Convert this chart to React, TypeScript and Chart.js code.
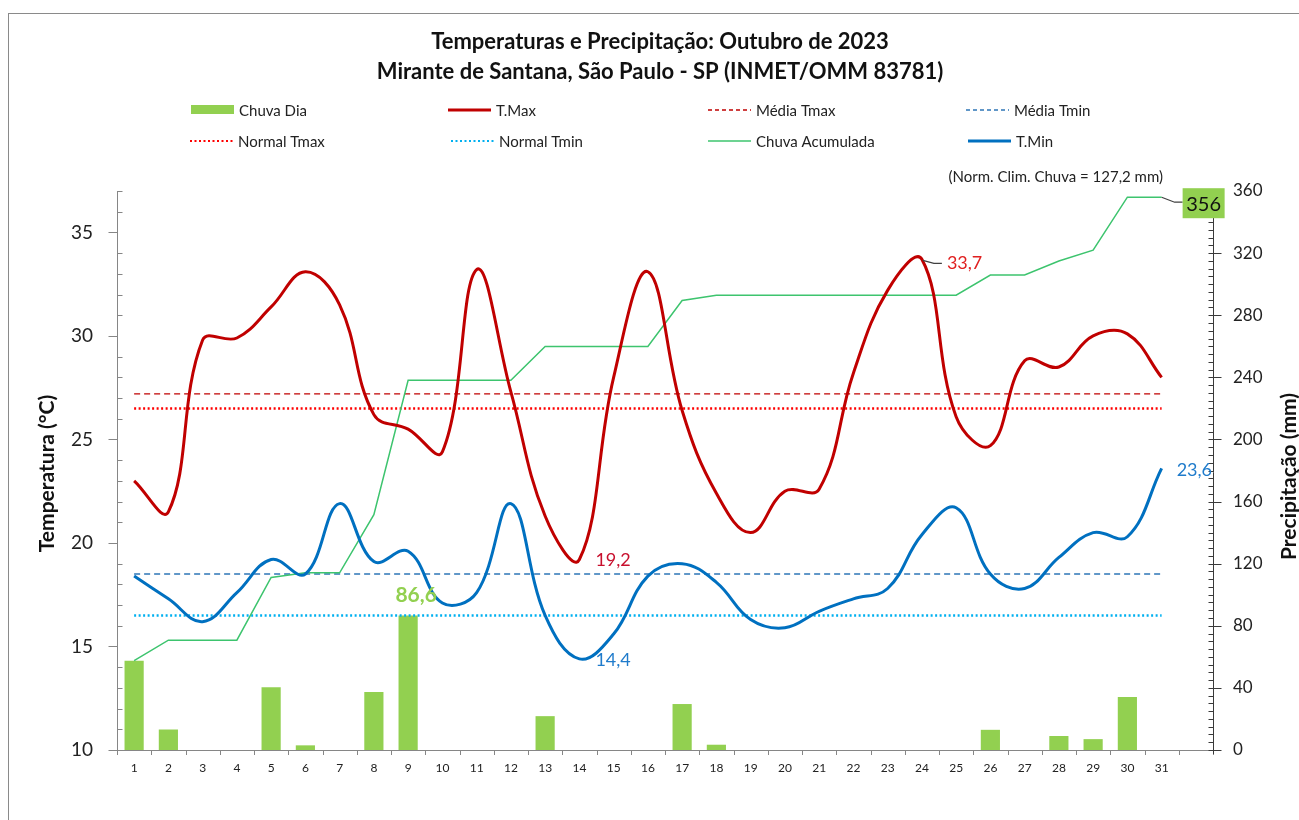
import React, { useEffect, useRef } from 'react';
import { Chart, registerables } from 'chart.js';

Chart.register(...registerables);

// ---------- data ----------
const days = ['1','2','3','4','5','6','7','8','9','10','11','12','13','14','15','16','17','18','19','20','21','22','23','24','25','26','27','28','29','30','31'];

const tMax = [23.0, 21.5, 29.8, 29.9, 31.4, 33.1, 31.5, 26.2, 25.5, 24.4, 33.2, 27.3, 21.3, 19.2, 28.0, 33.1,
  26.4, 22.4, 20.5, 22.5, 22.6, 28.2, 32.2, 33.7, 26.1, 24.7, 28.8, 28.5, 30.0, 30.1, 28.0];

const tMin = [18.4, 17.3, 16.2, 17.6, 19.2, 18.5, 21.9, 19.1, 19.6, 17.1, 17.6, 21.9, 16.5, 14.4, 15.6, 18.4,
  19.0, 18.1, 16.3, 15.9, 16.7, 17.3, 17.8, 20.4, 21.7, 18.5, 17.8, 19.3, 20.5, 20.3, 23.6];

const chuvaDia = [57.5, 13.2, 0, 0, 40.4, 3.0, 0, 37.4, 86.6, 0, 0, 0, 21.8, 0, 0, 0,
  29.6, 3.4, 0, 0, 0, 0, 0, 0, 0, 13.0, 0, 9.0, 7.0, 34.1, 0];

const chuvaAcumulada = [57.5, 70.7, 70.7, 70.7, 111.1, 114.1, 114.1, 151.5, 238.1, 238.1, 238.1, 238.1, 259.9, 259.9, 259.9, 259.9,
  289.5, 292.9, 292.9, 292.9, 292.9, 292.9, 292.9, 292.9, 292.9, 305.9, 305.9, 314.9, 321.9, 356.0, 356.0];

const mediaTmax = 27.2;
const normalTmax = 26.5;
const mediaTmin = 18.5;
const normalTmin = 16.5;
const normChuva = '127,2';

const tempTicks = [10, 15, 20, 25, 30, 35];
const rainTicks = [0, 40, 80, 120, 160, 200, 240, 280, 320, 360];

const titleLines = ['Temperaturas e Precipitação: Outubro de 2023', 'Mirante de Santana, São Paulo - SP (INMET/OMM 83781)'];

// ---------- style ----------
const FONT = 'Lato, "Open Sans", "DejaVu Sans", sans-serif';
const C_TMAX = '#C00000';
const C_TMIN = '#0070C0';
const C_ACUM = '#3DC46E';
const C_BAR = '#92D050';
const C_NTMAX = '#FF0000';
const C_NTMIN = '#00B0F0';
const C_MTMIN = '#2E75B6';

const fmt = (v: number) => v.toFixed(1).replace('.', ',');

export default function App() {
  const ref = useRef<HTMLCanvasElement>(null);

  useEffect(() => {
    const canvas = ref.current!;
    const n = days.length;
    const labels = [...days, ''];

    const line = (ctx: CanvasRenderingContext2D, x1: number, y1: number, x2: number, y2: number) => {
      ctx.beginPath();
      ctx.moveTo(x1, y1);
      ctx.lineTo(x2, y2);
      ctx.stroke();
    };

    const decor = {
      id: 'decor',
      beforeDatasetsDraw(chart: any) {
        const { ctx, chartArea: a, scales } = chart;
        const y = scales.y, y2 = scales.y2;
        ctx.save();
        ctx.lineWidth = 1;
        // left axis
        ctx.strokeStyle = '#868686';
        const L = Math.round(a.left) + 0.5;
        line(ctx, L, a.top, L, a.bottom + 5);
        for (let v = 10; v <= 37; v++) {
          const py = Math.round(y.getPixelForValue(v)) + 0.5;
          if (v % 5 === 0) line(ctx, L - 9, py, L, py);
          else line(ctx, L, py, L + 5, py);
        }
        // x axis
        const B = Math.round(a.bottom) + 0.5;
        line(ctx, a.left, B, a.right, B);
        const cw = (a.right - a.left) / labels.length;
        for (let k = 1; k <= labels.length; k++) {
          const px = Math.round(a.left + k * cw) + 0.5;
          line(ctx, px, a.bottom, px, a.bottom + 5);
        }
        // right axis
        ctx.strokeStyle = '#3a3a3a';
        const R = Math.round(a.right) + 0.5;
        line(ctx, R, a.top, R, a.bottom + 4);
        for (let v = 0; v <= 360; v += 5) {
          const py = Math.round(y2.getPixelForValue(v)) + 0.5;
          if (v % 40 === 0) line(ctx, R - 5, py, R + 8, py);
          else line(ctx, R - 5, py, R, py);
        }
        ctx.restore();
      },
      afterDatasetsDraw(chart: any) {
        const { ctx, chartArea: a, scales } = chart;
        const x = scales.x, y = scales.y, y2 = scales.y2;
        ctx.save();
        ctx.textBaseline = 'middle';
        ctx.textAlign = 'left';

        // max Tmax label with leader
        let iMax = 0; tMax.forEach((v, i) => { if (v > tMax[iMax]) iMax = i; });
        let px = x.getPixelForValue(iMax), py = y.getPixelForValue(tMax[iMax]);
        ctx.strokeStyle = '#404040'; ctx.lineWidth = 1.2;
        ctx.beginPath(); ctx.moveTo(px + 1, py + 1); ctx.lineTo(px + 12, py + 4); ctx.lineTo(px + 20, py + 4); ctx.stroke();
        ctx.font = `18px ${FONT}`;
        ctx.fillStyle = '#E02020';
        ctx.fillText(fmt(tMax[iMax]), px + 25, py + 4);

        // min Tmax
        let iMinX = 0; tMax.forEach((v, i) => { if (v < tMax[iMinX]) iMinX = i; });
        px = x.getPixelForValue(iMinX); py = y.getPixelForValue(tMax[iMinX]);
        ctx.fillStyle = '#C8102E';
        ctx.fillText(fmt(tMax[iMinX]), px + 16, py + 1);

        // min Tmin
        let iMinN = 0; tMin.forEach((v, i) => { if (v < tMin[iMinN]) iMinN = i; });
        px = x.getPixelForValue(iMinN); py = y.getPixelForValue(tMin[iMinN]);
        ctx.fillStyle = '#1F7BCB';
        ctx.fillText(fmt(tMin[iMinN]), px + 16, py + 1);

        // last Tmin
        const iLast = n - 1;
        px = x.getPixelForValue(iLast); py = y.getPixelForValue(tMin[iLast]);
        ctx.fillText(fmt(tMin[iLast]), px + 15, py + 2);

        // max rain
        let iR = 0; chuvaDia.forEach((v, i) => { if (v > chuvaDia[iR]) iR = i; });
        px = x.getPixelForValue(iR); py = y2.getPixelForValue(chuvaDia[iR]);
        ctx.textAlign = 'center';
        ctx.font = `bold 21px ${FONT}`;
        ctx.fillStyle = C_BAR;
        ctx.fillText(fmt(chuvaDia[iR]), px + 8, py - 20);

        // total rain box
        const tot = chuvaAcumulada[n - 1];
        px = x.getPixelForValue(n - 1); py = y2.getPixelForValue(tot);
        ctx.strokeStyle = '#404040'; ctx.lineWidth = 1.2;
        ctx.beginPath(); ctx.moveTo(px, py); ctx.lineTo(px + 13, py + 5); ctx.lineTo(px + 21, py + 5); ctx.stroke();
        ctx.fillStyle = C_BAR;
        ctx.fillRect(px + 21, py - 9, 42, 30);
        ctx.fillStyle = '#111';
        ctx.font = `20px ${FONT}`;
        ctx.fillText(String(Math.round(tot)), px + 42, py + 7);

        // normal rain note
        ctx.textAlign = 'right';
        ctx.font = `15px ${FONT}`;
        ctx.fillStyle = '#222';
        ctx.fillText(`(Norm. Clim. Chuva = ${normChuva} mm)`, a.right - 50, a.top - 14);
        ctx.restore();
      },
      afterDraw(chart: any) {
        const { ctx, chartArea: a } = chart;
        ctx.save();
        // title
        ctx.textAlign = 'center';
        ctx.textBaseline = 'middle';
        ctx.fillStyle = '#111';
        ctx.font = `bold 22px ${FONT}`;
        ctx.fillText(titleLines[0], 651, 28);
        ctx.fillText(titleLines[1], 651, 58);

        // axis titles
        ctx.font = `bold 21px ${FONT}`;
        ctx.save();
        ctx.translate(38, (a.top + a.bottom) / 2 + 3);
        ctx.rotate(-Math.PI / 2);
        ctx.fillText('Temperatura (°C)', 0, 0);
        ctx.restore();
        ctx.save();
        ctx.translate(1280, (a.top + a.bottom) / 2 + 6);
        ctx.rotate(-Math.PI / 2);
        ctx.fillText('Precipitação (mm)', 0, 0);
        ctx.restore();

        // legend
        const items = [
          { t: 'Chuva Dia', kind: 'bar', c: C_BAR, x: 182, y: 96 },
          { t: 'T.Max', kind: 'line', c: C_TMAX, w: 3, d: [], x: 439, y: 96 },
          { t: 'Média Tmax', kind: 'line', c: C_TMAX, w: 1.3, d: [4, 3], x: 699, y: 96 },
          { t: 'Média Tmin', kind: 'line', c: C_MTMIN, w: 1.3, d: [4, 3], x: 957, y: 96 },
          { t: 'Normal Tmax', kind: 'line', c: C_NTMAX, w: 2, d: [2, 2.5], x: 181, y: 127 },
          { t: 'Normal Tmin', kind: 'line', c: C_NTMIN, w: 2, d: [2, 2.5], x: 442, y: 127 },
          { t: 'Chuva Acumulada', kind: 'line', c: C_ACUM, w: 1.5, d: [], x: 699, y: 127 },
          { t: 'T.Min', kind: 'line', c: C_TMIN, w: 3, d: [], x: 959, y: 127 },
        ];
        ctx.textAlign = 'left';
        ctx.font = `15px ${FONT}`;
        for (const it of items as any[]) {
          if (it.kind === 'bar') {
            ctx.fillStyle = it.c;
            ctx.fillRect(it.x, it.y - 5, 43, 9);
          } else {
            ctx.strokeStyle = it.c;
            ctx.lineWidth = it.w;
            ctx.setLineDash(it.d);
            line(ctx, it.x, it.y, it.x + 43, it.y);
            ctx.setLineDash([]);
          }
          ctx.fillStyle = '#222';
          ctx.fillText(it.t, it.x + 48, it.y + 1);
        }
        ctx.restore();
      },
    };

    const flat = (v: number) => new Array(n).fill(v);

    const chart = new Chart(canvas, {
      type: 'bar',
      data: {
        labels,
        datasets: [
          { type: 'line', label: 'T.Min', data: tMin, yAxisID: 'y', borderColor: C_TMIN, borderWidth: 3, pointRadius: 0, tension: 0.4, order: 1 } as any,
          { type: 'line', label: 'T.Max', data: tMax, yAxisID: 'y', borderColor: C_TMAX, borderWidth: 3, pointRadius: 0, tension: 0.4, order: 2 } as any,
          { type: 'line', label: 'Chuva Acumulada', data: chuvaAcumulada, yAxisID: 'y2', borderColor: C_ACUM, borderWidth: 1.5, pointRadius: 0, tension: 0, order: 4 } as any,
          { type: 'line', label: 'Média Tmax', data: flat(mediaTmax), yAxisID: 'y', borderColor: C_TMAX, borderWidth: 1.3, borderDash: [6, 4], pointRadius: 0, order: 5 } as any,
          { type: 'line', label: 'Normal Tmax', data: flat(normalTmax), yAxisID: 'y', borderColor: C_NTMAX, borderWidth: 2.5, borderDash: [2, 2.5], pointRadius: 0, order: 5 } as any,
          { type: 'line', label: 'Média Tmin', data: flat(mediaTmin), yAxisID: 'y', borderColor: C_MTMIN, borderWidth: 1.3, borderDash: [6, 4], pointRadius: 0, order: 5 } as any,
          { type: 'line', label: 'Normal Tmin', data: flat(normalTmin), yAxisID: 'y', borderColor: C_NTMIN, borderWidth: 2.5, borderDash: [2, 2.5], pointRadius: 0, order: 5 } as any,
          { type: 'bar', label: 'Chuva Dia', data: chuvaDia, yAxisID: 'y2', backgroundColor: C_BAR, borderWidth: 0, categoryPercentage: 1, barPercentage: 0.56, order: 10 } as any,
        ],
      },
      options: {
        responsive: false,
        animation: false,
        events: [],
        layout: { padding: { top: 177, left: 0, right: 0, bottom: 0 } },
        plugins: { legend: { display: false }, title: { display: false }, tooltip: { enabled: false } },
        scales: {
          x: {
            type: 'category',
            offset: true,
            grid: { display: false, drawTicks: false, tickLength: 0 },
            border: { display: false },
            ticks: { color: '#222', font: { family: FONT, size: 12 }, padding: 11, autoSkip: false, maxRotation: 0 },
            afterFit: (s: any) => { s.height = 64; },
          },
          y: {
            position: 'left',
            min: 10,
            max: 37,
            grid: { display: false, drawTicks: false, tickLength: 0 },
            border: { display: false },
            ticks: {
              stepSize: 1, autoSkip: false, padding: 24, color: '#222', font: { family: FONT, size: 19 },
              callback: (v: any) => (tempTicks.includes(Number(v)) ? String(v) : ''),
            },
            afterFit: (s: any) => { s.width = 108; },
          },
          y2: {
            position: 'right',
            min: 0,
            max: 360,
            grid: { display: false, drawTicks: false, tickLength: 0 },
            border: { display: false },
            ticks: {
              stepSize: 40, autoSkip: false, padding: 20, color: '#222', font: { family: FONT, size: 17 },
              callback: (v: any) => (rainTicks.includes(Number(v)) ? String(v) : ''),
            },
            afterFit: (s: any) => { s.width = 86; },
          },
        },
      },
      plugins: [decor],
    } as any);

    return () => chart.destroy();
  }, []);

  return (
    <div
      style={{
        position: 'absolute',
        left: 8,
        top: 13,
        width: 1300,
        height: 820,
        border: '1px solid #8a8a8a',
        boxSizing: 'border-box',
        background: '#fff',
      }}
    >
      <canvas ref={ref} width={1290} height={800} style={{ display: 'block' }} />
    </div>
  );
}
